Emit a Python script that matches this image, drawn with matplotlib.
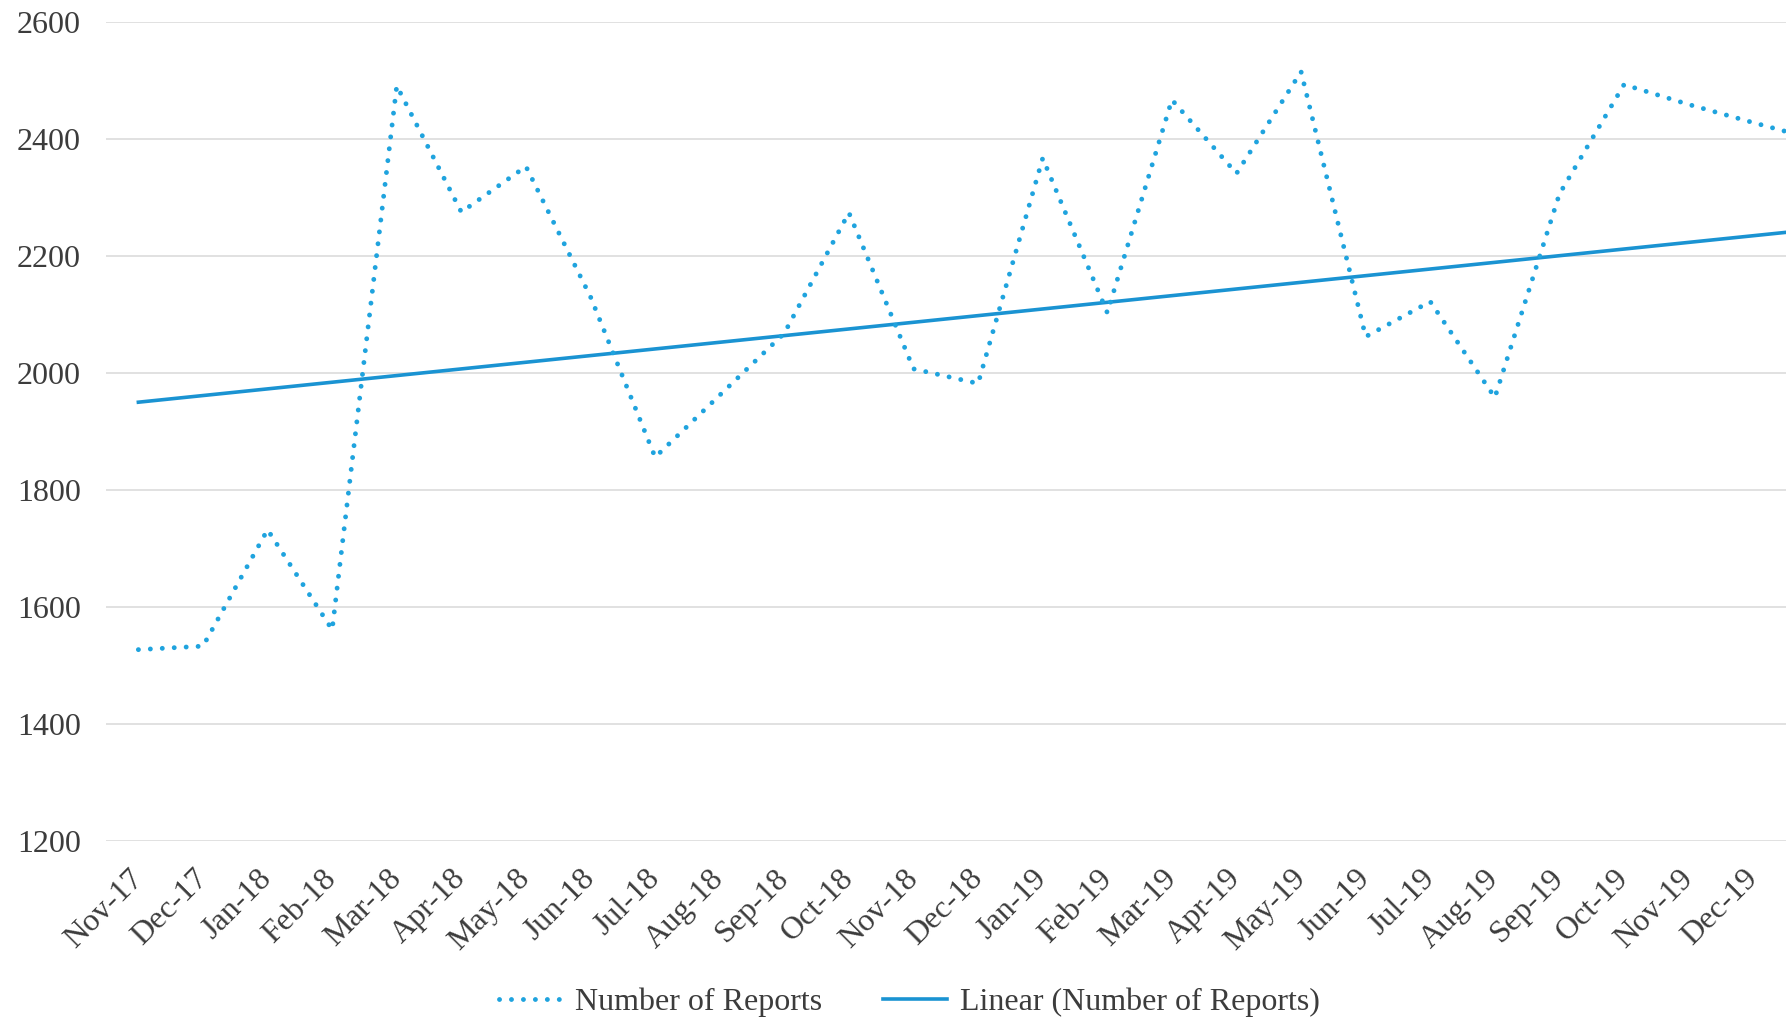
import numpy as np
import matplotlib.pyplot as plt

# monthly report counts; the series runs one month past the right edge of the frame
months = ['Nov-17', 'Dec-17', 'Jan-18', 'Feb-18', 'Mar-18', 'Apr-18', 'May-18',
          'Jun-18', 'Jul-18', 'Aug-18', 'Sep-18', 'Oct-18', 'Nov-18', 'Dec-18',
          'Jan-19', 'Feb-19', 'Mar-19', 'Apr-19', 'May-19', 'Jun-19', 'Jul-19',
          'Aug-19', 'Sep-19', 'Oct-19', 'Nov-19', 'Dec-19', 'Jan-20']
reports = [1527, 1533, 1732, 1561, 2491, 2275, 2353, 2130, 1856, 1962, 2068,
           2274, 2007, 1982, 2367, 2103, 2467, 2341, 2515, 2062, 2122, 1958,
           2306, 2493, 2459, 2428, 2398]

# linear trend (Number of Reports): value at first and last month
trend_ends = [1950, 2246]

y_ticks = [1200, 1400, 1600, 1800, 2000, 2200, 2400, 2600]

plt.rcParams['font.family'] = ['Liberation Serif', 'DejaVu Serif']

fig = plt.figure(figsize=(17.86, 10.23), dpi=100)
ax = fig.add_axes([0.0594, 0.178, 0.9765, 0.8005])

x = np.arange(len(months))
ax.plot(x, reports, color='#1fa3de', lw=3.5, linestyle=(0, (0.01, 2.45)),
        dash_capstyle='round', label='Number of Reports', zorder=3)
ax.plot([x[0], x[-1]], trend_ends, color='#1a93d2', lw=2.6,
        label='Linear (Number of Reports)', zorder=2)

ax.set_xlim(-0.5, len(months) - 0.5)
ax.set_ylim(1200, 2600)
ax.set_yticks(y_ticks)
ax.set_xticks(x[:-1])
ax.set_xticklabels(months[:-1], rotation=45, ha='right', va='center',
                   rotation_mode='anchor')

ax.grid(axis='y', color='#d9d9d9', lw=1.1)
ax.set_axisbelow(True)
for s in ax.spines.values():
    s.set_visible(False)
ax.tick_params(axis='both', length=0, labelsize=23, labelcolor='#3c3c3c')
ax.tick_params(axis='y', pad=18)
ax.tick_params(axis='x', pad=24)

leg = fig.legend(loc='center', bbox_to_anchor=(0.509, 0.0205), ncol=2,
                 frameon=False, fontsize=23, handlelength=2.0,
                 handletextpad=0.4, columnspacing=1.9)
for t in leg.get_texts():
    t.set_color('#3c3c3c')

fig.savefig('out.png', dpi=100)
